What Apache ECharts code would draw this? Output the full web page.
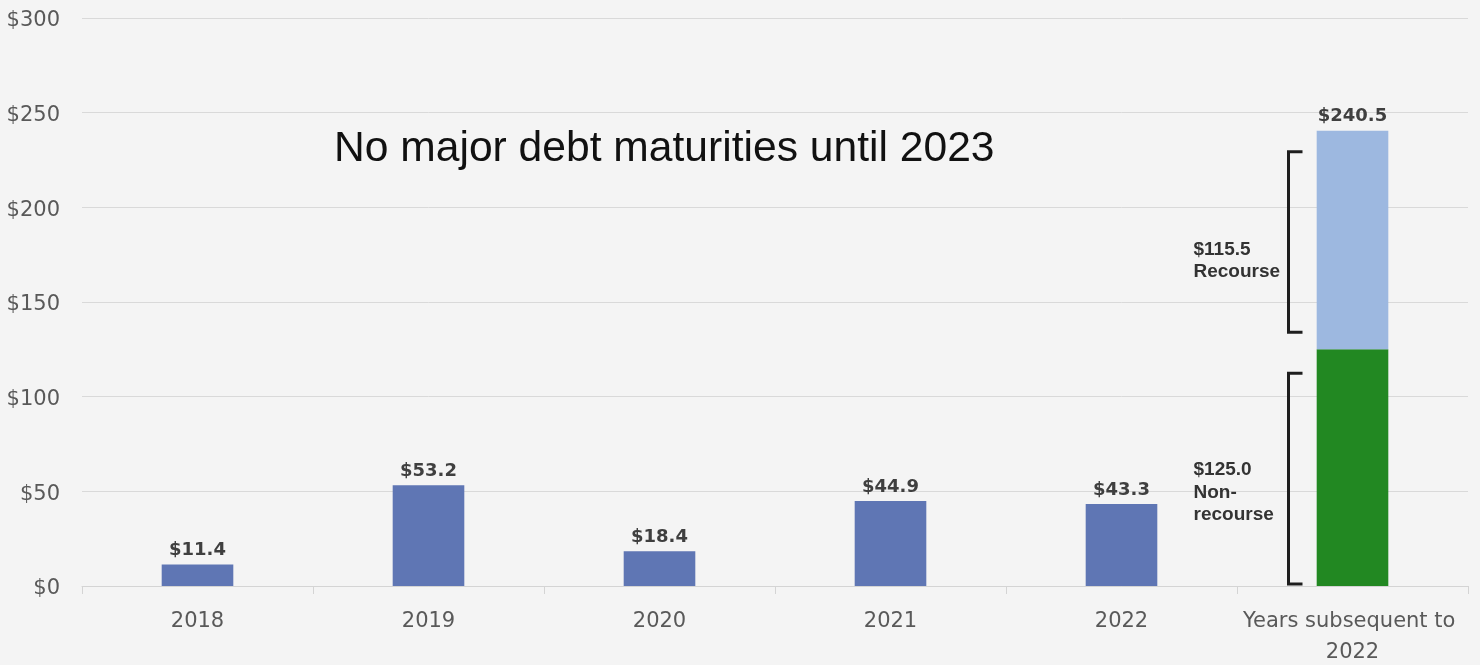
<!DOCTYPE html>
<html><head><meta charset="utf-8">
<script src="https://cdn.jsdelivr.net/npm/echarts@6/dist/echarts.min.js"></script>
<style>html,body{margin:0;padding:0;background:#f4f4f4;}#c{width:1480px;height:665px;}</style>
</head><body><div id="c"></div>
<script>
var categories = ['2018', '2019', '2020', '2021', '2022', 'Years subsequent to 2022'];
var annualValues = [11.4, 53.2, 18.4, 44.9, 43.3, '-'];
var nonRecourseValues = ['-', '-', '-', '-', '-', 125.0];
var recourseValues = ['-', '-', '-', '-', '-', 115.5];
var totalValues = ['-', '-', '-', '-', '-', 240.5];
var yTicks = [0, 50, 100, 150, 200, 250, 300];
var titleText = 'No major debt maturities until 2023';
var recourseNote = '$115.5\nRecourse';
var nonRecourseNote = '$125.0\nNon-\nrecourse';

var chart = echarts.init(document.getElementById('c'));
var axisFont = 'DejaVu Sans, sans-serif';
var labelStyle = {show: true, position: 'top', distance: 5, fontFamily: axisFont,
  fontSize: 18, fontWeight: 'bold', color: '#3f3f3f'};
var option = {
  backgroundColor: '#f4f4f4',
  animation: false,
  title: {text: titleText, left: 329, top: 123,
    textStyle: {fontFamily: 'Liberation Sans, Arial, sans-serif', fontSize: 42.6, fontWeight: 'normal', color: '#111'}},
  grid: {left: 82, right: 12, top: 18, bottom: 79, containLabel: false, outerBoundsMode: 'none'},
  xAxis: {type: 'category', data: categories,
    axisLine: {lineStyle: {color: '#d4d4d4', width: 1}},
    axisTick: {show: true, length: 8, lineStyle: {color: '#d4d4d4'}},
    axisLabel: {interval: 0, fontFamily: axisFont, fontSize: 21, color: '#595959', margin: 20,
      width: 228, overflow: 'break', lineHeight: 31}
  },
  yAxis: {type: 'value', min: yTicks[0], max: yTicks[yTicks.length - 1], interval: 50,
    axisLine: {show: false}, axisTick: {show: false},
    splitLine: {lineStyle: {color: '#d9d9d9', width: 1}},
    axisLabel: {fontFamily: axisFont, fontSize: 21, color: '#595959', margin: 22,
      verticalAlign: 'top', lineHeight: 6,
      formatter: function (v) { return '$' + v; }}
  },
  series: [
    {type: 'bar', name: 'Annual', stack: 'd', data: annualValues, barWidth: '31%',
      itemStyle: {color: '#5f76b4'},
      label: Object.assign({}, labelStyle, {formatter: function (p) { return '$' + p.value.toFixed(1); }})},
    {type: 'bar', name: 'Non-recourse', stack: 'd', data: nonRecourseValues, barWidth: '31%',
      itemStyle: {color: '#228822'}},
    {type: 'bar', name: 'Recourse', stack: 'd', data: recourseValues, barWidth: '31%',
      itemStyle: {color: '#9db8e0'},
      label: Object.assign({}, labelStyle, {formatter: function (p) { return '$' + totalValues[p.dataIndex].toFixed(1); }})}
  ]
};
chart.setOption(option);

function drawBrackets() {
  var idx = categories.length - 1;
  var cat = categories[idx];
  var c0 = chart.convertToPixel({xAxisIndex: 0, yAxisIndex: 0}, [cat, 0]);
  var c1 = chart.convertToPixel({xAxisIndex: 0, yAxisIndex: 0}, [cat, nonRecourseValues[idx]]);
  var c2 = chart.convertToPixel({xAxisIndex: 0, yAxisIndex: 0}, [cat, nonRecourseValues[idx] + recourseValues[idx]]);
  var cx = c0[0];
  var vx = cx - 64, tx = cx - 50;
  function bracket(top, bottom) {
    return {type: 'polyline', shape: {points: [[tx, top], [vx, top], [vx, bottom], [tx, bottom]]},
      style: {stroke: '#1e1e1e', lineWidth: 3, fill: null}};
  }
  var rTop = c2[1] + 21, rBot = c1[1] - 17;
  var nTop = c1[1] + 24, nBot = c0[1] - 2;
  var textStyle = {fontFamily: 'Liberation Sans, Arial, sans-serif', fontSize: 19, fontWeight: 'bold',
    fill: '#333', lineHeight: 22.5, verticalAlign: 'middle'};
  chart.setOption({graphic: [
    bracket(rTop, rBot),
    bracket(nTop, nBot),
    {type: 'text', x: cx - 159, y: (rTop + rBot) / 2 + 19, style: Object.assign({text: recourseNote}, textStyle)},
    {type: 'text', x: cx - 159, y: (nTop + nBot) / 2 + 14, style: Object.assign({text: nonRecourseNote}, textStyle)}
  ]});
}
drawBrackets();
</script></body></html>
